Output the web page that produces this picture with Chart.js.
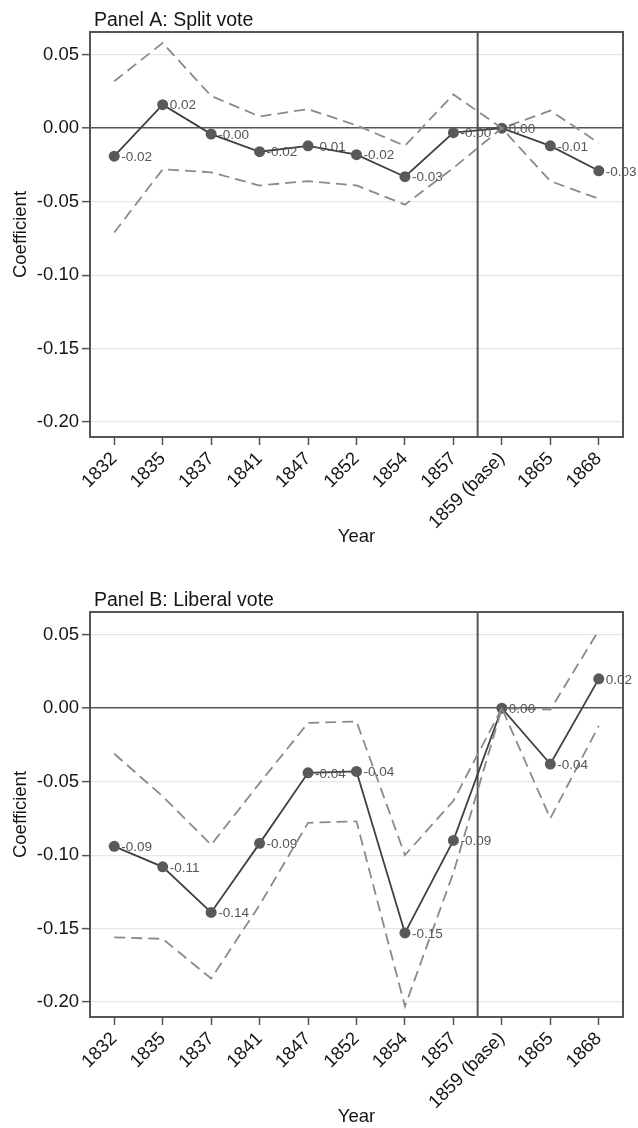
<!DOCTYPE html>
<html>
<head>
<meta charset="utf-8">
<script src="https://cdn.jsdelivr.net/npm/chart.js@4/dist/chart.umd.min.js"></script>
<style>
  html, body { margin: 0; padding: 0; background: #fff; overflow: hidden; width: 638px; height: 1128px; }
  .panel { position: absolute; left: 0; width: 638px; height: 548px; }
  #wrapA { top: 0; }
  #wrapB { top: 580px; }
</style>
</head>
<body>
<div class="panel" id="wrapA"><canvas id="chartA" width="638" height="548"></canvas></div>
<div class="panel" id="wrapB"><canvas id="chartB" width="638" height="548"></canvas></div>
<script>
// Election years (1859 is the omitted base year)
const years = ['1832', '1835', '1837', '1841', '1847', '1852', '1854', '1857', '1859 (base)', '1865', '1868'];
const yTicks = [0.05, 0.00, -0.05, -0.10, -0.15, -0.20];

// Panel A: split vote — point estimates and 95% confidence bounds
const splitCoef  = [-0.019, 0.016, -0.004, -0.016, -0.012, -0.018, -0.033, -0.003, 0.000, -0.012, -0.029];
const splitUpper = [ 0.032, 0.058,  0.022,  0.008,  0.013,  0.002, -0.012,  0.023, 0.000,  0.012, -0.010];
const splitLower = [-0.071, -0.028, -0.030, -0.039, -0.036, -0.039, -0.052, -0.027, 0.000, -0.036, -0.048];

// Panel B: liberal vote — point estimates and 95% confidence bounds
const liberalCoef  = [-0.094, -0.108, -0.139, -0.092, -0.044, -0.043, -0.153, -0.090, 0.000, -0.038, 0.020];
const liberalUpper = [-0.031, -0.060, -0.093, -0.051, -0.010, -0.009, -0.100, -0.063, 0.000, -0.001, 0.053];
const liberalLower = [-0.156, -0.157, -0.184, -0.134, -0.078, -0.077, -0.203, -0.112, 0.000, -0.075, -0.012];

const FONT = '"Liberation Sans", Arial, Helvetica, sans-serif';
const TEXT = '#151515';

// Frame, base-year divider, value labels and panel heading
const panelDecor = {
  id: 'panelDecor',
  beforeDatasetsDraw(chart, args, opts) {
    const { ctx, chartArea: a, scales: { x } } = chart;
    const bx = (x.getPixelForValue(opts.breakAfter) + x.getPixelForValue(opts.breakAfter + 1)) / 2;
    ctx.save();
    ctx.strokeStyle = '#555';
    ctx.lineWidth = 2;
    ctx.beginPath();
    ctx.moveTo(bx, a.top);
    ctx.lineTo(bx, a.bottom);
    ctx.stroke();
    ctx.restore();
  },
  afterDatasetsDraw(chart, args, opts) {
    const { ctx } = chart;
    const idx = opts.labelDataset;
    const meta = chart.getDatasetMeta(idx);
    const values = chart.data.datasets[idx].data;
    ctx.save();
    ctx.font = '13.5px ' + FONT;
    ctx.fillStyle = '#555';
    ctx.textAlign = 'left';
    ctx.textBaseline = 'middle';
    meta.data.forEach((pt, i) => {
      ctx.fillText(values[i].toFixed(2), pt.x + 7, pt.y + 1);
    });
    ctx.restore();
  },
  afterDraw(chart, args, opts) {
    const { ctx, chartArea: a } = chart;
    ctx.save();
    ctx.strokeStyle = '#555';
    ctx.lineWidth = 2;
    ctx.strokeRect(a.left, a.top, a.right - a.left, a.bottom - a.top);
    ctx.font = '19.5px ' + FONT;
    ctx.fillStyle = TEXT;
    ctx.textAlign = 'left';
    ctx.textBaseline = 'alphabetic';
    ctx.fillText(opts.heading, a.left + 4, a.top - 6);
    ctx.restore();
  }
};

function makePanel(canvasId, heading, coef, upper, lower) {
  const dashed = {
    borderColor: '#8a8a8a',
    borderWidth: 1.8,
    borderDash: [11, 6],
    pointRadius: 0,
    pointHoverRadius: 0,
    fill: false,
    tension: 0
  };
  return new Chart(document.getElementById(canvasId), {
    type: 'line',
    data: {
      labels: years,
      datasets: [
        Object.assign({ label: 'Upper bound', data: upper }, dashed),
        Object.assign({ label: 'Lower bound', data: lower }, dashed),
        {
          label: 'Coefficient',
          data: coef,
          borderColor: '#404040',
          borderWidth: 1.8,
          pointRadius: 5.5,
          pointBackgroundColor: '#595959',
          pointBorderColor: '#595959',
          pointBorderWidth: 0,
          fill: false,
          tension: 0
        }
      ]
    },
    options: {
      responsive: false,
      animation: false,
      events: [],
      layout: { padding: { top: 32, left: 10, right: 15, bottom: 0 } },
      plugins: {
        legend: { display: false },
        title: { display: false },
        tooltip: { enabled: false },
        panelDecor: { heading: heading, breakAfter: 7, labelDataset: 2 }
      },
      scales: {
        x: {
          type: 'category',
          offset: true,
          border: { display: false },
          grid: {
            display: true,
            drawOnChartArea: false,
            drawTicks: true,
            tickLength: 8,
            tickColor: '#555',
            tickWidth: 1.5
          },
          ticks: {
            autoSkip: false,
            minRotation: 45,
            maxRotation: 45,
            padding: 3,
            color: TEXT,
            font: { family: FONT, size: 18.5 }
          },
          title: {
            display: true,
            text: 'Year',
            color: TEXT,
            padding: 0,
            font: { family: FONT, size: 18.5 }
          },
          afterFit(scale) { scale.height = 111; }
        },
        y: {
          min: -0.2102,
          max: 0.0655,
          border: { display: false },
          afterBuildTicks(scale) { scale.ticks = yTicks.map(v => ({ value: v })); },
          grid: {
            color: c => (c.tick && c.tick.value === 0) ? '#555' : '#e6e6e6',
            lineWidth: c => (c.tick && c.tick.value === 0) ? 1.6 : 1.2,
            drawTicks: true,
            tickLength: 8,
            tickColor: '#555',
            tickWidth: 1.5
          },
          ticks: {
            padding: 3,
            color: TEXT,
            font: { family: FONT, size: 18.5 },
            callback: v => Number(v).toFixed(2)
          },
          title: {
            display: true,
            text: 'Coefficient',
            color: TEXT,
            padding: 0,
            font: { family: FONT, size: 18.5 }
          },
          afterFit(scale) { scale.width = 80; }
        }
      }
    },
    plugins: [panelDecor]
  });
}

makePanel('chartA', 'Panel A: Split vote', splitCoef, splitUpper, splitLower);
makePanel('chartB', 'Panel B: Liberal vote', liberalCoef, liberalUpper, liberalLower);
</script>
</body>
</html>
